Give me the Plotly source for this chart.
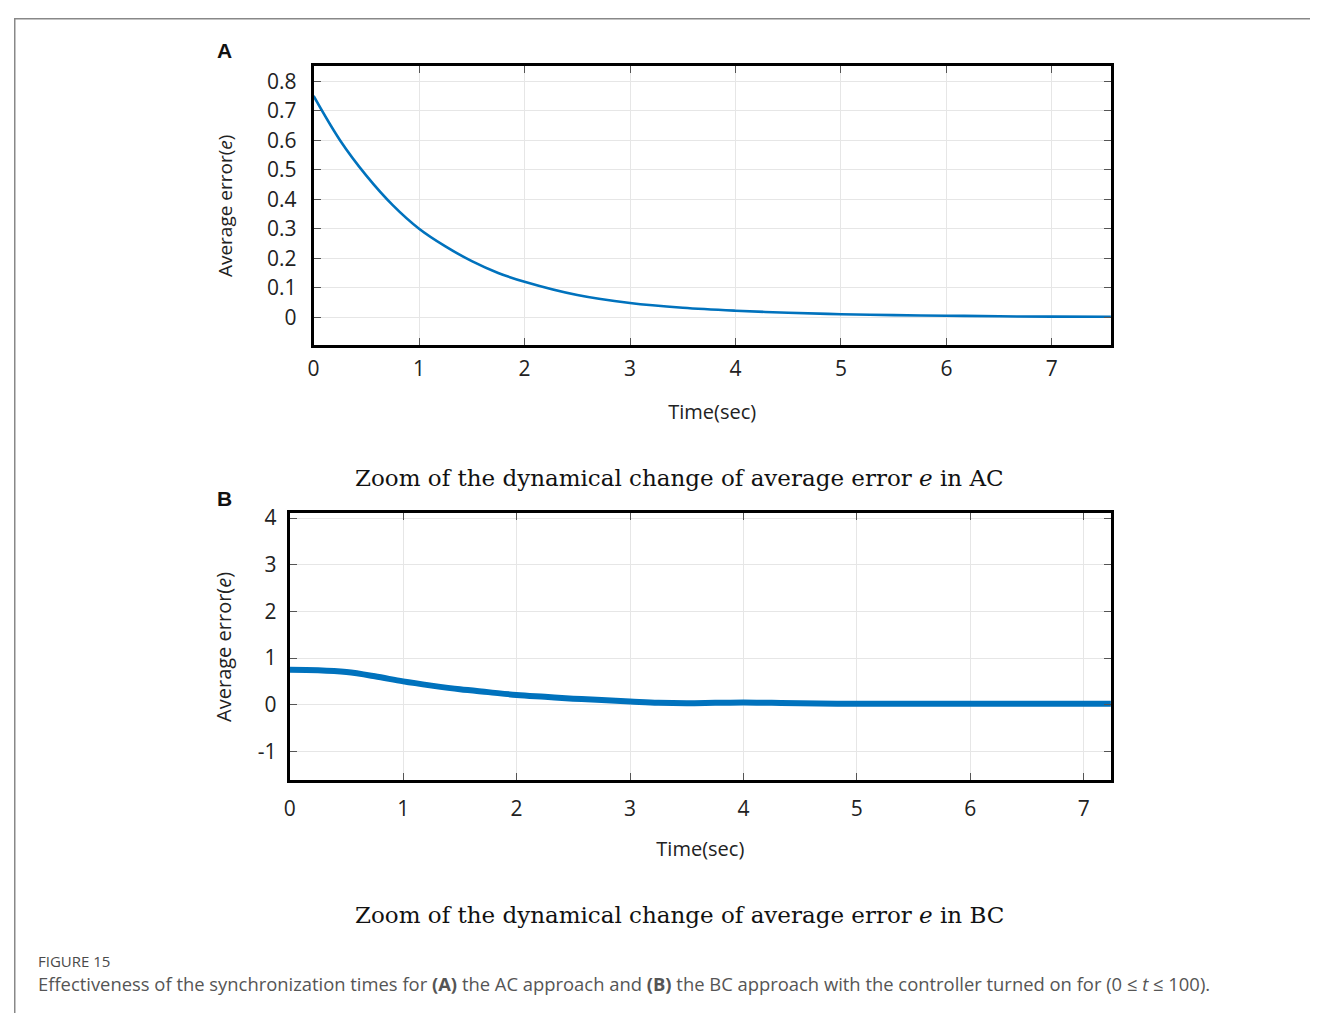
import plotly.graph_objects as go

# Page is 1318x1021 with an 8px body margin, so the figure is 1302x1005
W, H = 1302, 1005
OFF = 8

# Panel A data
t_a = [0.0, 0.25, 0.5, 0.75, 1.0, 1.25, 1.5, 1.75, 2.0, 2.5, 3.0, 3.5, 4.0, 4.5, 5.0, 5.5, 6.0, 6.5, 7.0, 7.56]
e_a = [0.75, 0.60, 0.48, 0.38, 0.30, 0.24, 0.19, 0.15, 0.12, 0.075, 0.048, 0.032, 0.022, 0.015, 0.010, 0.007, 0.005, 0.003, 0.002, 0.0015]

# Panel B data
t_b = [0.0, 0.25, 0.5, 0.75, 1.0, 1.25, 1.5, 1.75, 2.0, 2.25, 2.5, 2.75, 3.0, 3.25, 3.5, 3.75, 4.0, 4.25, 4.5, 5.0, 5.5, 6.0, 6.5, 7.0, 7.24]
e_b = [0.75, 0.74, 0.70, 0.61, 0.50, 0.41, 0.33, 0.27, 0.21, 0.17, 0.13, 0.10, 0.07, 0.04, 0.03, 0.04, 0.05, 0.04, 0.03, 0.02, 0.02, 0.02, 0.02, 0.02, 0.02]

xticks_a = [0, 1, 2, 3, 4, 5, 6, 7]
yticks_a = [0, 0.1, 0.2, 0.3, 0.4, 0.5, 0.6, 0.7, 0.8]
yticklabels_a = ["0", "0.1", "0.2", "0.3", "0.4", "0.5", "0.6", "0.7", "0.8"]
xticks_b = [0, 1, 2, 3, 4, 5, 6, 7]
yticks_b = [-1, 0, 1, 2, 3, 4]
yticklabels_b = ["-1", "0", "1", "2", "3", "4"]

BLUE = "#0072BD"
TICKFONT = dict(family="Open Sans", size=21, color="#222")


def px_x(p):
    return (p - 3 - OFF) / W


def px_y(p):
    p = (p - 7.4) / 0.9944
    return 1 - (p - OFF) / H


fig = go.Figure()
fig.add_trace(go.Scatter(x=t_a, y=e_a, mode="lines", line=dict(color=BLUE, width=2.6, shape="spline"),
                         xaxis="x", yaxis="y", showlegend=False))
fig.add_trace(go.Scatter(x=t_b, y=e_b, mode="lines", line=dict(color=BLUE, width=6, shape="spline"),
                         xaxis="x2", yaxis="y2", showlegend=False))

axis_common = dict(showline=True, linecolor="black", linewidth=3, mirror="ticks", ticks="inside",
                   ticklen=7, tickcolor="#555", tickwidth=1, showgrid=True, gridcolor="#e6e6e6",
                   gridwidth=1, zeroline=False, tickfont=TICKFONT)

fig.update_layout(
    width=W, height=H, margin=dict(l=0, r=0, t=0, b=0),
    paper_bgcolor="white", plot_bgcolor="white",
    xaxis=dict(domain=[px_x(312), px_x(1113)], range=[0, 7.56], tickvals=xticks_a, anchor="y",
               ticklabelstandoff=3,
               title=dict(text="Time(sec)", font=dict(family="Open Sans", size=20, color="#222"), standoff=24),
               **axis_common),
    yaxis=dict(domain=[px_y(344), px_y(64)], range=[-0.095, 0.85], tickvals=yticks_a,
               ticktext=yticklabels_a, anchor="x", ticklabelstandoff=10,
               title=dict(text="Average error(<i>e</i>)", font=dict(family="Open Sans", size=19, color="#222"),
                          standoff=30),
               **axis_common),
    xaxis2=dict(domain=[px_x(288), px_x(1113)], range=[0, 7.24], tickvals=xticks_b, anchor="y2",
                ticklabelstandoff=8,
                title=dict(text="Time(sec)", font=dict(family="Open Sans", size=20, color="#222"), standoff=21),
                **axis_common),
    yaxis2=dict(domain=[px_y(781), px_y(513)], range=[-1.62, 4.1], tickvals=yticks_b,
                ticktext=yticklabels_b, anchor="x2", ticklabelstandoff=6,
                title=dict(text="Average error(<i>e</i>)", font=dict(family="Open Sans", size=20, color="#222"),
                           standoff=21),
                **axis_common),
)

annotations = [
    dict(text="<b>A</b>", x=px_x(222), y=px_y(48), font=dict(family="Liberation Sans", size=21, color="#111")),
    dict(text="<b>B</b>", x=px_x(222), y=px_y(498), font=dict(family="Liberation Sans", size=21, color="#111")),
    dict(text="Zoom of the dynamical change of average error <i>e</i> in AC", x=px_x(680), y=px_y(477),
         font=dict(family="DejaVu Serif", size=23, color="#111")),
    dict(text="Zoom of the dynamical change of average error <i>e</i> in BC", x=px_x(680), y=px_y(916),
         font=dict(family="DejaVu Serif", size=23, color="#111")),
    dict(text="FIGURE 15", x=px_x(33), y=px_y(962), xanchor="left",
         font=dict(family="Open Sans", size=15, color="#4a4a4a")),
    dict(text="Effectiveness of the synchronization times for <b>(A)</b> the AC approach and <b>(B)</b> the BC approach "
              "with the controller turned on for (0 ≤ <i>t</i> ≤ 100).",
         x=px_x(33), y=px_y(985), xanchor="left",
         font=dict(family="Open Sans", size=18.4, color="#555")),
]
for a in annotations:
    a.setdefault("xanchor", "center")
    a.update(xref="paper", yref="paper", yanchor="middle", showarrow=False)
fig.update_layout(annotations=annotations)

fig.update_layout(shapes=[
    dict(type="line", xref="paper", yref="paper", x0=0, x1=1, y0=1 - 0.75 / H, y1=1 - 0.75 / H,
         line=dict(color="#888", width=1.5)),
    dict(type="line", xref="paper", yref="paper", x0=0.75 / W, x1=0.75 / W, y0=1, y1=0,
         line=dict(color="#888", width=1.5)),
])

fig.write_html("out.html", config={"displayModeBar": False})
